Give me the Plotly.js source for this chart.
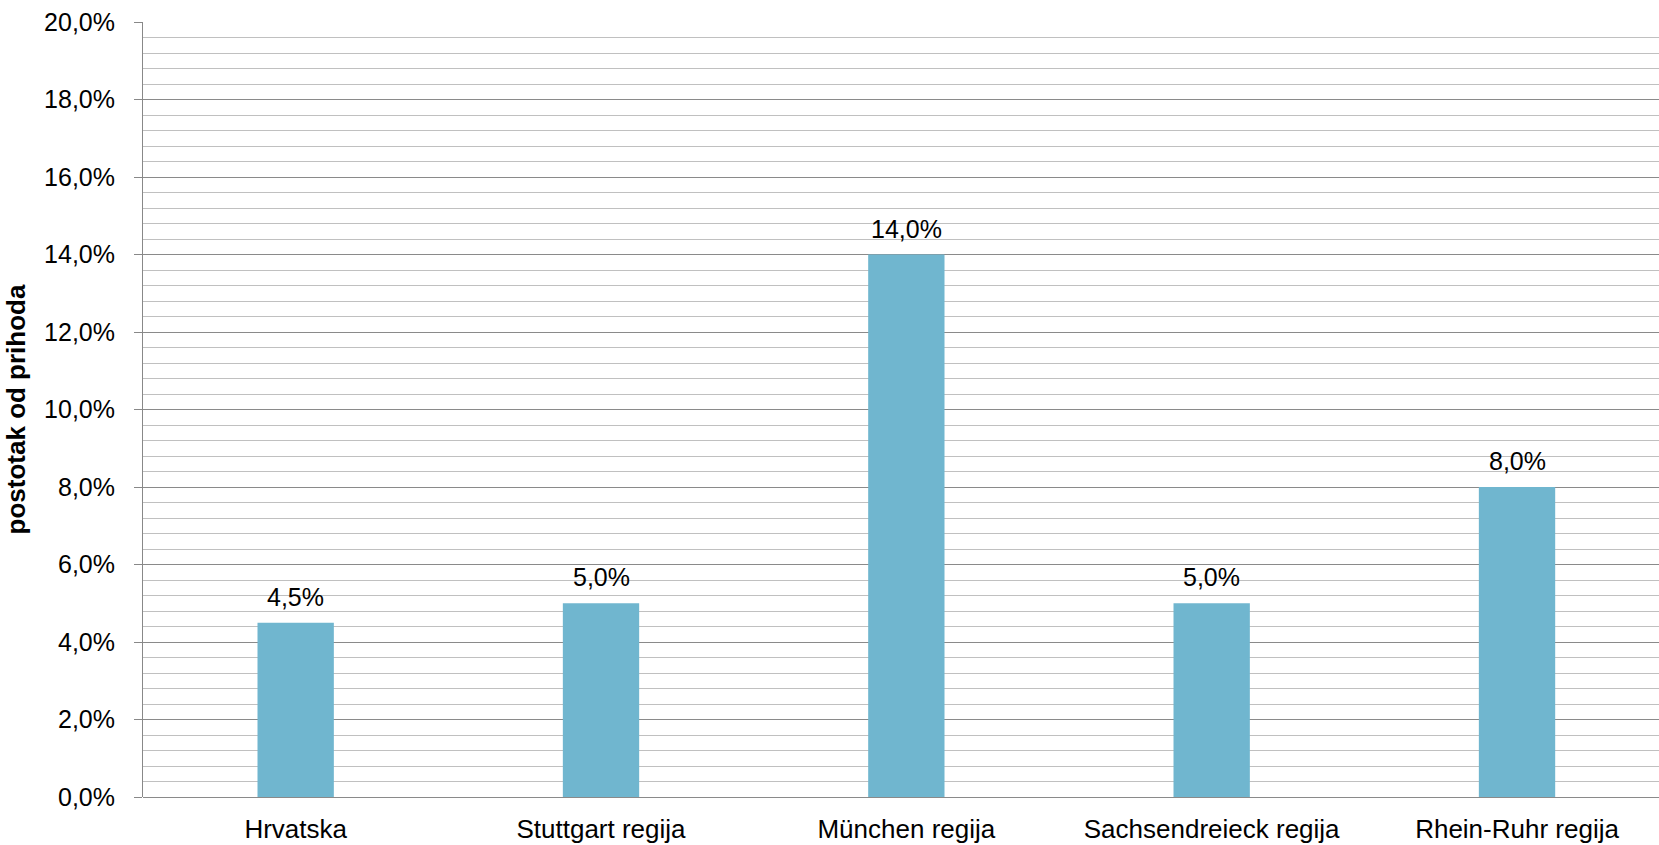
<!DOCTYPE html>
<html>
<head>
<meta charset="utf-8">
<script src="https://cdn.plot.ly/plotly-3.0.1.min.js"></script>
<style>html,body{margin:0;padding:0;background:#fff;}#chart{width:1659px;height:845px;}</style>
</head>
<body>
<div id="chart"></div>
<script>
const categories = ["Hrvatska", "Stuttgart regija", "München regija", "Sachsendreieck regija", "Rhein-Ruhr regija"];
const values = [0.045, 0.05, 0.14, 0.05, 0.08];
const yTickValues = [0, 0.02, 0.04, 0.06, 0.08, 0.10, 0.12, 0.14, 0.16, 0.18, 0.20];
const yTickLabels = ["0,0%", "2,0%", "4,0%", "6,0%", "8,0%", "10,0%", "12,0%", "14,0%", "16,0%", "18,0%", "20,0%"];

const labels = values.map(v => (v * 100).toFixed(1).replace('.', ',') + '%');
const xIdx = categories.map((c, i) => i);

const fam = 'Liberation Sans, Arial, sans-serif';
const font = {family: fam, size: 25, color: '#000'};

const annotations = values.map((v, i) => ({
  x: i, y: v, xref: 'x', yref: 'y',
  text: labels[i], showarrow: false,
  yanchor: 'bottom', yshift: 10,
  font: font
}));

Plotly.newPlot('chart', [{
  type: 'bar',
  x: xIdx,
  y: values,
  width: 0.25,
  marker: {color: '#70b6cf', line: {width: 0}},
  hoverinfo: 'none'
}], {
  width: 1659,
  height: 845,
  margin: {l: 143, r: 0, t: 22, b: 48, pad: 0},
  paper_bgcolor: '#fff',
  plot_bgcolor: '#fff',
  showlegend: false,
  font: font,
  separators: ',.',
  annotations: annotations,
  xaxis: {
    tickmode: 'array',
    tickvals: xIdx,
    ticktext: categories,
    range: [-0.5, 4.465],
    showgrid: false,
    zeroline: false,
    showline: false,
    ticks: '',
    tickfont: {family: fam, size: 26, color: '#000'},
    ticklabelstandoff: 14,
    automargin: false,
    fixedrange: true
  },
  yaxis: {
    range: [0, 0.2],
    tickmode: 'array',
    tickvals: yTickValues,
    ticktext: yTickLabels,
    tickfont: font,
    ticks: 'outside',
    ticklen: 8,
    tickcolor: '#888',
    tickwidth: 1,
    ticklabelstandoff: 14,
    showline: true,
    linecolor: '#888',
    linewidth: 1,
    showgrid: true,
    gridcolor: '#8a8a8a',
    gridwidth: 1,
    zeroline: true,
    zerolinecolor: '#8a8a8a',
    zerolinewidth: 1,
    minor: {dtick: 0.004, showgrid: true, gridcolor: '#c0c0c0', gridwidth: 1, ticks: ''},
    title: {text: '<b>postotak od prihoda</b>', font: {family: fam, size: 26, color: '#000'}, standoff: 11},
    automargin: false,
    fixedrange: true
  }
}, {staticPlot: true});
</script>
</body>
</html>
